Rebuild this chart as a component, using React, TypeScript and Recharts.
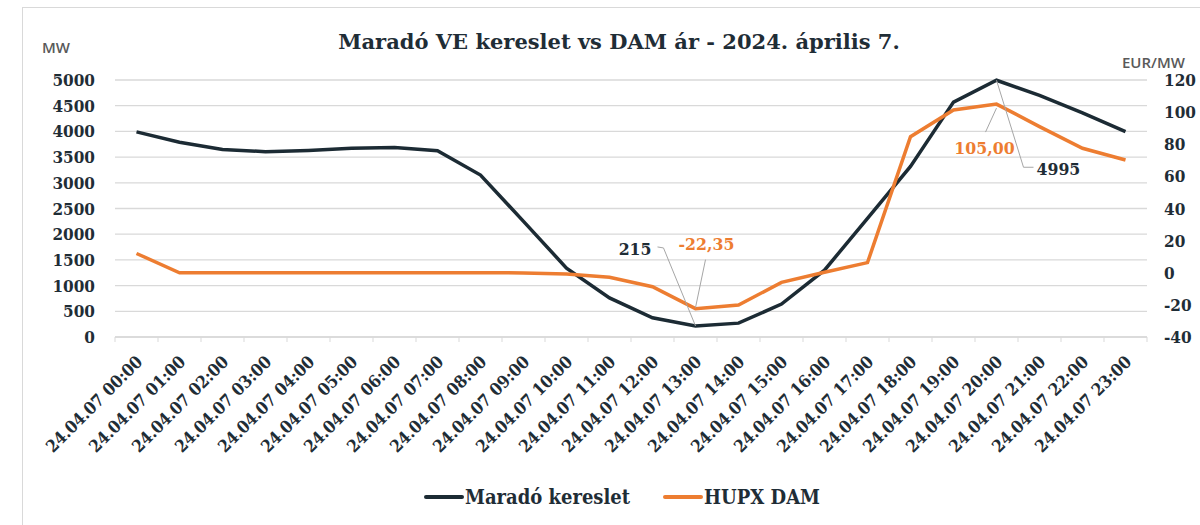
import React from 'react';
import { LineChart, Line, XAxis, YAxis, CartesianGrid, Legend, Customized } from 'recharts';

const times = [
  '24.04.07 00:00', '24.04.07 01:00', '24.04.07 02:00', '24.04.07 03:00', '24.04.07 04:00', '24.04.07 05:00',
  '24.04.07 06:00', '24.04.07 07:00', '24.04.07 08:00', '24.04.07 09:00', '24.04.07 10:00', '24.04.07 11:00',
  '24.04.07 12:00', '24.04.07 13:00', '24.04.07 14:00', '24.04.07 15:00', '24.04.07 16:00', '24.04.07 17:00',
  '24.04.07 18:00', '24.04.07 19:00', '24.04.07 20:00', '24.04.07 21:00', '24.04.07 22:00', '24.04.07 23:00',
];
const demand = [3990, 3790, 3650, 3605, 3630, 3670, 3685, 3625, 3150, 2250, 1340, 760, 375, 215, 270, 640, 1300, 2310, 3320, 4570, 4995, 4700, 4360, 3995];
const price = [12, 0, 0, 0, 0, 0, 0, 0, 0, -0.1, -0.8, -2.8, -8.7, -22.35, -20.1, -6, 0.3, 6.3, 84.7, 101.3, 105, 91, 77.5, 70.2];
const leftTicks = [0, 500, 1000, 1500, 2000, 2500, 3000, 3500, 4000, 4500, 5000];
const rightTicks = [-40, -20, 0, 20, 40, 60, 80, 100, 120];
const title = 'Maradó VE kereslet vs DAM ár - 2024. április 7.';
const seriesNames = ['Maradó kereslet', 'HUPX DAM'];

const data = times.map((t, i) => ({ time: t, demand: demand[i], price: price[i] }));

const DARK = '#1c2b34';
const ORANGE = '#ed7d31';
const TEXT = '#1f2d36';
const GRID = '#d9d9d9';
const LEADER = '#a6a6a6';
const SERIF = "'DejaVu Serif', serif";
const FONT_STRETCH = 'condensed';

const XTick = (props: any) => {
  const { x, y, payload, index } = props;
  const off = payload && payload.offset ? payload.offset : 21.5;
  const isLast = index === times.length - 1;
  return (
    <g>
      <line x1={x - off} x2={x - off} y1={y - 8} y2={y - 3} stroke={GRID} strokeWidth={1} />
      {isLast && <line x1={x + off} x2={x + off} y1={y - 8} y2={y - 3} stroke={GRID} strokeWidth={1} />}
      <g transform={`translate(${x + 7},${y + 18})`}>
        <text
          transform="rotate(-45)"
          textAnchor="end"
          x={0}
          y={0}
          fill={TEXT}
          fontFamily={SERIF}
          fontWeight="bold"
          fontSize={17}
          style={{ fontStretch: FONT_STRETCH }}
        >
          {payload.value}
        </text>
      </g>
    </g>
  );
};

const DarkLabel = (props: any) => {
  const { x, y, index, value } = props;
  if (index === 13) {
    return (
      <g>
        <polyline points={`${x - 38},${y - 79} ${x - 32},${y - 78} ${x},${y}`} fill="none" stroke={LEADER} strokeWidth={1} />
        <text x={x - 44} y={y - 71} textAnchor="end" fill={TEXT} fontFamily={SERIF} fontWeight="bold" fontSize={17.5} style={{ fontStretch: FONT_STRETCH }}>
          {String(value)}
        </text>
      </g>
    );
  }
  if (index === 20) {
    return (
      <g>
        <polyline points={`${x},${y} ${x + 27},${y + 87} ${x + 37},${y + 87}`} fill="none" stroke={LEADER} strokeWidth={1} />
        <text x={x + 40} y={y + 95} textAnchor="start" fill={TEXT} fontFamily={SERIF} fontWeight="bold" fontSize={17.5} style={{ fontStretch: FONT_STRETCH }}>
          {String(value)}
        </text>
      </g>
    );
  }
  return null;
};

const fmt = (v: number) => v.toFixed(2).replace('.', ',');

const OrangeLabel = (props: any) => {
  const { x, y, index, value } = props;
  if (index === 13) {
    return (
      <g>
        <line x1={x + 10} y1={y - 49} x2={x} y2={y - 1} stroke={LEADER} strokeWidth={1} />
        <text x={x + 11} y={y - 59} textAnchor="middle" fill={ORANGE} fontFamily={SERIF} fontWeight="bold" fontSize={17.5} style={{ fontStretch: FONT_STRETCH }}>
          {fmt(value)}
        </text>
      </g>
    );
  }
  if (index === 20) {
    return (
      <g>
        <line x1={x - 11} y1={y + 28} x2={x} y2={y + 4} stroke={LEADER} strokeWidth={1} />
        <text x={x - 12} y={y + 50} textAnchor="middle" fill={ORANGE} fontFamily={SERIF} fontWeight="bold" fontSize={17.5} style={{ fontStretch: FONT_STRETCH }}>
          {fmt(value)}
        </text>
      </g>
    );
  }
  return null;
};

const LegendContent = (props: any) => {
  const payload = [...(props.payload || [])].sort(
    (a: any, b: any) => seriesNames.indexOf(a.value) - seriesNames.indexOf(b.value)
  );
  return (
    <div style={{ display: 'flex', justifyContent: 'center', alignItems: 'center', paddingLeft: 44, height: 30 }}>
      {payload.map((p: any, i: number) => (
        <div key={i} style={{ display: 'flex', alignItems: 'center', marginLeft: i === 0 ? 0 : 33 }}>
          <div style={{ width: 40, height: 4, background: p.color, borderRadius: 2, marginRight: 1 }} />
          <span style={{ fontFamily: SERIF, fontWeight: 'bold', fontSize: 20, color: TEXT, fontStretch: FONT_STRETCH }}>{p.value}</span>
        </div>
      ))}
    </div>
  );
};

const Extras = () => (
  <g>
    <text x={619} y={49} textAnchor="middle" fill={TEXT} fontFamily={SERIF} fontWeight="bold" fontSize={21}>
      {title}
    </text>
    <text x={42} y={53} fill="#595959" fontFamily="'Open Sans', sans-serif" fontWeight={600} fontSize={15}>MW</text>
    <text x={1122} y={68} fill="#595959" fontFamily="'Open Sans', sans-serif" fontWeight={600} fontSize={15}>EUR/MW</text>
  </g>
);

export default function App() {
  return (
    <div style={{ position: 'absolute', left: 0, top: 0, width: 1200, height: 525, overflow: 'hidden', background: '#fff' }}>
      <div style={{ position: 'absolute', left: 22, top: 7, width: 1300, height: 700, border: `1px solid ${GRID}` }} />
      <div style={{ position: 'absolute', left: 0, top: 0 }}>
        <LineChart width={1200} height={525} data={data} margin={{ top: 80, right: 0, bottom: 0, left: 0 }}>
          <CartesianGrid yAxisId="left" vertical={false} stroke={GRID} strokeWidth={1.3} />
          <XAxis
            dataKey="time"
            scale="band"
            interval={0}
            height={158}
            axisLine={{ stroke: GRID, strokeWidth: 1.3 }}
            tickLine={false}
            tick={<XTick />}
          />
          <YAxis
            yAxisId="left"
            orientation="left"
            width={115}
            domain={[0, 5000]}
            ticks={leftTicks}
            interval={0}
            axisLine={false}
            tickLine={false}
            tickSize={0}
            tickMargin={20}
            tick={{ fill: TEXT, fontFamily: SERIF, fontWeight: 'bold', fontSize: 17, style: { fontStretch: FONT_STRETCH } } as any}
          />
          <YAxis
            yAxisId="right"
            orientation="right"
            width={53}
            domain={[-40, 120]}
            ticks={rightTicks}
            interval={0}
            axisLine={false}
            tickLine={false}
            tickSize={0}
            tickMargin={17}
            tick={{ fill: TEXT, fontFamily: SERIF, fontWeight: 'bold', fontSize: 17, textAnchor: 'start', style: { fontStretch: FONT_STRETCH } } as any}
          />
          <Line
            yAxisId="left"
            type="linear"
            dataKey="demand"
            name={seriesNames[0]}
            stroke={DARK}
            strokeWidth={3.5}
            dot={false}
            activeDot={false}
            isAnimationActive={false}
            label={<DarkLabel />}
          />
          <Line
            yAxisId="right"
            type="linear"
            dataKey="price"
            name={seriesNames[1]}
            stroke={ORANGE}
            strokeWidth={3.5}
            dot={false}
            activeDot={false}
            isAnimationActive={false}
            label={<OrangeLabel />}
          />
          <Legend verticalAlign="bottom" content={<LegendContent />} wrapperStyle={{ bottom: 13, height: 30 }} />
          <Customized component={<Extras />} />
        </LineChart>
      </div>
    </div>
  );
}
